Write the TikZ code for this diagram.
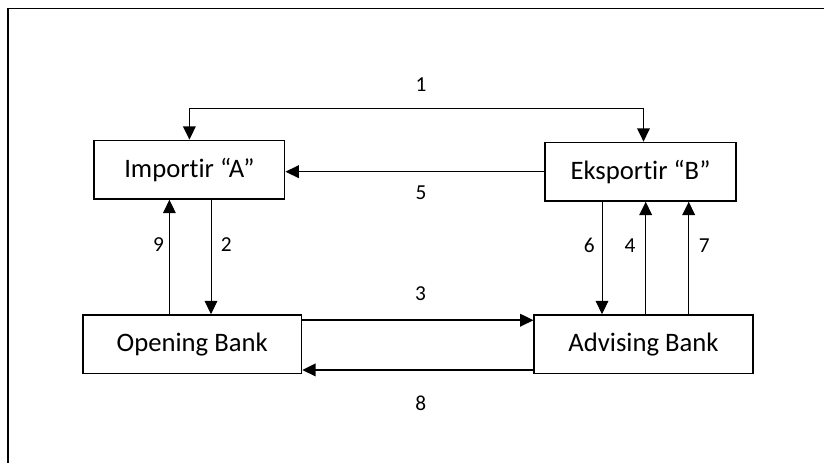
\documentclass[tikz,border=0pt]{standalone}
\usepackage{fontspec}
\setmainfont{Carlito}[Ligatures=NoCommon]
\usetikzlibrary{arrows.meta}
\usetikzlibrary{calc}
\tikzstyle{block} = [draw,rectangle,line width=1.1pt,minimum height=44pt,inner sep=0pt,
                     font=\fontsize{20}{24}\selectfont]
\tikzstyle{connector} = [->,line width=1.1pt]
\tikzstyle{thinconnector} = [connector,line width=0.75pt]
\tikzstyle{num} = [inner sep=0pt,font=\fontsize{16}{19}\selectfont]
\tikzstyle{frame} = [line width=1.1pt]

\begin{document}
\begin{tikzpicture}[x=0.75pt, y=0.75pt, >={Triangle[length=10pt,width=9.5pt]}]
    \useasboundingbox (0,0) rectangle (824,463);
    % page frame, runs off to the right and below
    \draw [frame] (8,0) -- (8,454.5) -- (824,454.5);

    % the four parties
    \node[block, minimum width=143pt] (imp) at (189.4,293.3) {Importir “A”};
    \node[block, minimum width=143pt] (eks) at (640.5,291.3) {Eksportir “B”};
    \node[block, minimum width=164pt] (opn) at (192.2,118.7) {Opening Bank};
    \node[block, minimum width=164pt] (adv) at (643.5,118.7) {Advising Bank};

    % where the vertical links leave the boxes
    \coordinate (x9) at ($(imp.south)+(-20,0)$);
    \coordinate (x2) at ($(imp.south)+(21.6,0)$);
    \coordinate (x6) at ($(eks.south)+(-38.5,0)$);
    \coordinate (x4) at ($(eks.south)+(5.2,0)$);
    \coordinate (x7) at ($(eks.south)+(48.2,0)$);
    \coordinate (s3) at ($(opn.north east)+(0,-6)$);
    \coordinate (s8) at ($(adv.south west)+(0,4.4)$);

    % now link the nodes
    \draw [connector, <->] (imp.north) -- ++(0,31) -| node[num, above=12.3pt, pos=0.255] (n1) {1}
                      ($(eks.north)+(3,0)$);
    \draw [connector] (eks.west) -- node[num, below=10pt, pos=0.477] (n5) {5} (eks.west -| imp.east);
    \draw [thinconnector] (x9 |- opn.north) -- node[num, left=3.8pt, pos=0.605] (n9) {9} (x9);
    \draw [thinconnector] (x2) -- node[num, right=7.1pt, pos=0.395] (n2) {2} (x2 |- opn.north);
    \draw [connector] (s3) -- node[num, above=13.8pt, pos=0.512] (n3) {3} (s3 -| adv.west);
    \draw [connector] (s8) -- node[num, below=18.8pt, pos=0.487] (n8) {8} (s8 -| opn.east);
    \draw [thinconnector] (x6) -- node[num, left=5.1pt, pos=0.388] (n6) {6} (x6 |- adv.north);
    \draw [connector] (x4 |- adv.north) -- node[num, left=7.1pt, pos=0.612] (n4) {4} (x4);
    \draw [connector] (x7 |- adv.north) -- node[num, right=7pt, pos=0.612] (n7) {7} (x7);
\end{tikzpicture}
\end{document}
